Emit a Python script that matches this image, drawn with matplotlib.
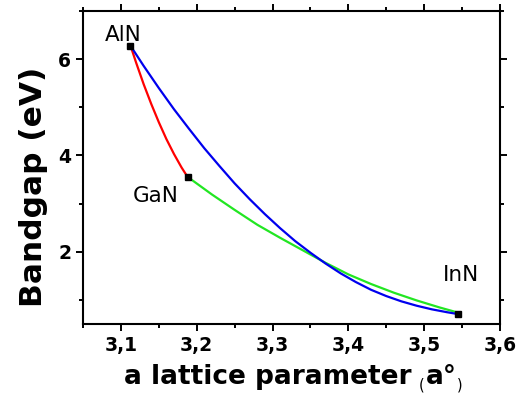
import matplotlib
matplotlib.use("Agg")
import matplotlib.pyplot as plt
from matplotlib.ticker import MultipleLocator, FuncFormatter

# end compounds: lattice parameter a (A), bandgap (eV)
names = ["AlN", "GaN", "InN"]
a_pts = [3.112, 3.189, 3.545]
eg_pts = [6.27, 3.55, 0.71]
label_pos = [(3.103, 6.375), (3.146, 3.027), (3.549, 1.396)]

# AlGaN (red)
red_x = [3.1127, 3.12, 3.13, 3.14, 3.15, 3.16, 3.17, 3.18, 3.1876]
red_y = [6.277, 5.93, 5.48, 5.07, 4.69, 4.34, 4.03, 3.75, 3.562]

# InGaN (green)
green_x = [3.1886, 3.22, 3.25, 3.28, 3.31, 3.34, 3.37, 3.40, 3.43, 3.46,
           3.49, 3.52, 3.545]
green_y = [3.548, 3.19, 2.87, 2.56, 2.29, 2.03, 1.77, 1.53, 1.33, 1.15,
           0.99, 0.845, 0.735]

# InAlN (blue)
blue_x = [3.1127, 3.13, 3.15, 3.17, 3.19, 3.21, 3.23, 3.25, 3.27, 3.29,
          3.31, 3.33, 3.35, 3.37, 3.39, 3.41, 3.43, 3.45, 3.47, 3.49,
          3.51, 3.53, 3.545]
blue_y = [6.277, 5.86, 5.40, 4.96, 4.55, 4.15, 3.78, 3.42, 3.09, 2.78,
          2.49, 2.22, 1.98, 1.755, 1.55, 1.37, 1.21, 1.08, 0.97, 0.88,
          0.805, 0.745, 0.705]

fig = plt.figure(figsize=(5.2, 3.96), dpi=100)
ax = fig.add_axes([83 / 520, 72 / 396, 417 / 520, 313 / 396])

ax.plot(red_x, red_y, color="#ff0000", lw=1.6)
ax.plot(green_x, green_y, color="#22e622", lw=1.6)
ax.plot(blue_x, blue_y, color="#0000ee", lw=1.6)
ax.plot(a_pts, eg_pts, "s", color="black", ms=5, ls="none")

for n, (lx, ly) in zip(names, label_pos):
    ax.text(lx, ly, n, ha="center", va="baseline", fontsize=15.5)

ax.set_xlim(3.05, 3.6)
ax.set_ylim(0.5, 7)
ax.xaxis.set_major_locator(MultipleLocator(0.1))
ax.xaxis.set_minor_locator(MultipleLocator(0.05))
ax.yaxis.set_major_locator(MultipleLocator(2))
ax.yaxis.set_minor_locator(MultipleLocator(1))
ax.xaxis.set_major_formatter(FuncFormatter(lambda v, p: f"{v:.1f}".replace(".", ",")))
ax.yaxis.set_major_formatter(FuncFormatter(lambda v, p: f"{v:.0f}"))

ax.tick_params(which="both", direction="out", top=True, right=True, width=1.4)
ax.tick_params(which="major", length=5)
ax.tick_params(which="minor", length=3)
ax.tick_params(labelsize=13.5)
for lab in ax.get_xticklabels() + ax.get_yticklabels():
    lab.set_fontweight("bold")
for s in ax.spines.values():
    s.set_linewidth(1.5)

# axis titles, pieces placed in pixel positions
fig.text(124 / 520, (396 - 384) / 396, "a lattice parameter", fontsize=19,
         fontweight="bold", ha="left", va="baseline")
fig.text(419 / 520, (396 - 390) / 396, "(", fontsize=10.5, ha="left", va="baseline")
fig.text(426 / 520, (396 - 384) / 396, "a°", fontsize=19, fontweight="bold",
         ha="left", va="baseline")
fig.text(457 / 520, (396 - 390) / 396, ")", fontsize=10.5, ha="left", va="baseline")

fig.text(42 / 520, (396 - 307) / 396, "Bandgap (eV)", fontsize=22.5,
         fontweight="bold", rotation=90, rotation_mode="anchor",
         ha="left", va="baseline")

fig.savefig("out.png", dpi=100)
